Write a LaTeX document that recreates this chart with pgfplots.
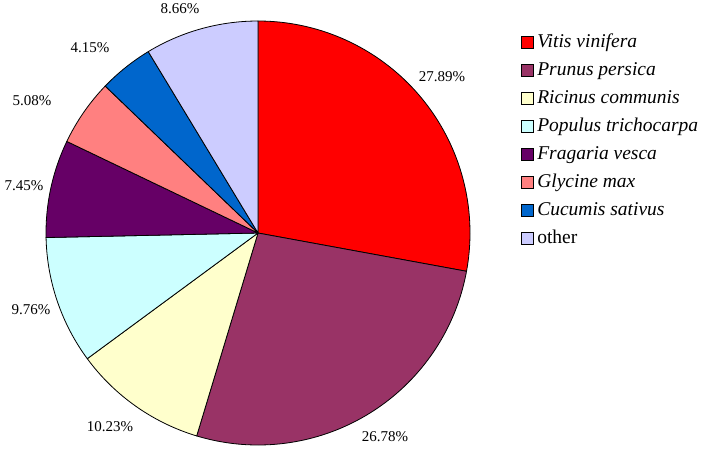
\documentclass[border=0pt]{standalone}
\usepackage{pgfplots}
\pgfplotsset{compat=1.18}
\usepackage{pgfplotstable}
\usepackage{fontspec}
\setmainfont{Liberation Serif}
\definecolor{c1}{HTML}{FF0000}
\definecolor{c2}{HTML}{993366}
\definecolor{c3}{HTML}{FFFFCC}
\definecolor{c4}{HTML}{CCFFFF}
\definecolor{c5}{HTML}{660066}
\definecolor{c6}{HTML}{FF8080}
\definecolor{c7}{HTML}{0066CC}
\definecolor{c8}{HTML}{CCCCFF}
\pgfplotstableread{
share col lx ly
27.89 c1 442 77
26.78 c2 385 437
10.23 c3 110 427
9.76 c4 31 310
7.45 c5 24 186
5.08 c6 32 101
4.15 c7 90 48
8.66 c8 180 9
}\piedata
\begin{document}
\begin{tikzpicture}
\begin{axis}[
  scale only axis, width=352pt, height=225.5pt,
  xmin=0, xmax=704, ymin=0, ymax=451, y dir=reverse,
  hide axis, clip=false,
  legend image code/.code={\filldraw[#1] (0pt,-3pt) rectangle (6pt,3pt);},
  legend style={draw=none, fill=none, at={(axis cs:521,33)}, anchor=north west,
    font=\fontsize{9.75}{11}\selectfont, inner sep=0pt, row sep=5pt, column sep=0pt,
    nodes={inner sep=0pt, text height=7pt, text depth=2pt, anchor=west}},
  legend cell align=left,
]
\def\cum{0}
\pgfplotsforeachungrouped \i in {0,...,7}{%
  \pgfplotstablegetelem{\i}{share}\of\piedata \let\v\pgfplotsretval
  \pgfplotstablegetelem{\i}{col}\of\piedata \let\c\pgfplotsretval
  \pgfplotstablegetelem{\i}{lx}\of\piedata \let\lx\pgfplotsretval
  \pgfplotstablegetelem{\i}{ly}\of\piedata \let\ly\pgfplotsretval
  \pgfmathsetmacro\a{90-3.6*\cum}%
  \pgfmathsetmacro\b{90-3.6*(\cum+\v)}%
  \edef\temp{\noexpand\filldraw[fill=\c, draw=black, line width=0.4pt, line join=round]
    (axis cs:258,233) -- ++(\a:106pt) arc[start angle=\a, end angle=\b, radius=106pt] -- cycle;
    \noexpand\node[font=\noexpand\fontsize{7.5}{9}\noexpand\selectfont] at (axis cs:\lx,\ly) {\v\noexpand\%};}%
  \temp
  \pgfmathsetmacro\cum{\cum+\v}%
}
\addlegendimage{fill=c1, draw=black, line width=0.3pt}\addlegendentry{\,\textit{Vitis vinifera}}
\addlegendimage{fill=c2, draw=black, line width=0.3pt}\addlegendentry{\,\textit{Prunus persica}}
\addlegendimage{fill=c3, draw=black, line width=0.3pt}\addlegendentry{\,\textit{Ricinus communis}}
\addlegendimage{fill=c4, draw=black, line width=0.3pt}\addlegendentry{\,\textit{Populus trichocarpa}}
\addlegendimage{fill=c5, draw=black, line width=0.3pt}\addlegendentry{\,\textit{Fragaria vesca}}
\addlegendimage{fill=c6, draw=black, line width=0.3pt}\addlegendentry{\,\textit{Glycine max}}
\addlegendimage{fill=c7, draw=black, line width=0.3pt}\addlegendentry{\,\textit{Cucumis sativus}}
\addlegendimage{fill=c8, draw=black, line width=0.3pt}\addlegendentry{\,other}
\end{axis}
\pgfresetboundingbox
\path (0,0) rectangle (352pt,225.5pt);
\end{tikzpicture}
\end{document}
